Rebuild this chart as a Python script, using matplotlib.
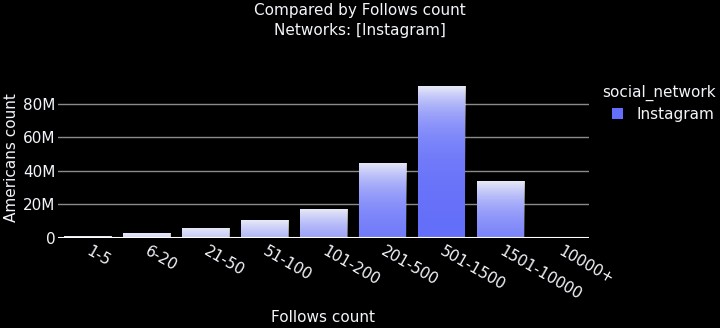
import numpy as np
import matplotlib
matplotlib.use("Agg")
import matplotlib.pyplot as plt
from matplotlib.ticker import FuncFormatter
from matplotlib.patches import Rectangle

categories = ["1-5", "6-20", "21-50", "51-100", "101-200", "201-500", "501-1500", "1501-10000", "10000+"]
americans = [1.0e6, 3.0e6, 6.0e6, 10.7e6, 17.3e6, 44.8e6, 90.7e6, 34.0e6, 0.0]
series_name = "Instagram"
legend_title = "social_network"
title_lines = ["Compared by Follows count", "Networks: [Instagram]"]
x_title = "Follows count"
y_title = "Americans count"
y_ticks = [0, 20e6, 40e6, 60e6, 80e6]

BAR = "#636EFA"
TXT = "#f2f5fa"
plt.rcParams['font.family'] = ['DejaVu Sans']

fig = plt.figure(figsize=(7.2, 3.28), dpi=100, facecolor="black")
ax = fig.add_axes([58/720, 90/328, 531/720, 160/328], facecolor="black")

x = np.arange(len(categories))
bars = ax.bar(x, americans, width=0.8, color=BAR, zorder=3, linewidth=0)

ymax = 95.5e6
px_per_unit = 160 / ymax
for b in bars:
    h = b.get_height()
    if h <= 0:
        continue
    ys = np.linspace(0, h, 300)
    d = (h - ys) * px_per_unit
    alpha = 0.86 * np.exp(-d / 33.0)
    img = np.ones((len(ys), 2, 4))
    img[:, :, 3] = alpha[:, None]
    img[:, :, 2] = 0.97
    im = ax.imshow(img, extent=(b.get_x(), b.get_x() + b.get_width(), 0, h),
                   origin="lower", aspect="auto", interpolation="bilinear", zorder=4)
    im.set_clip_path(b)

ax.set_xlim(-0.5, len(categories) - 0.5)
ax.set_ylim(0, ymax)

ax.set_yticks(y_ticks)
ax.yaxis.set_major_formatter(FuncFormatter(lambda v, p: "0" if v == 0 else f"{int(v/1e6)}M"))
ax.grid(axis="y", color="#8a8a8a", linewidth=1, zorder=0)
ax.axhline(0, color="white", linewidth=1.5, zorder=5)
for s in ax.spines.values():
    s.set_visible(False)
ax.tick_params(axis="y", length=0, pad=2, labelsize=11, labelcolor=TXT)
ax.tick_params(axis="x", length=0, pad=4, labelsize=11, labelcolor=TXT)
ax.set_xticks(x)
ax.set_xticklabels(categories, rotation=-30, ha="left", va="center", rotation_mode="anchor")
for lbl in ax.get_xticklabels():
    lbl.set_y(-0.04)

fig.text(0.5, 1 - 10/328, title_lines[0], ha="center", va="center", color=TXT, fontsize=11)
fig.text(0.5, 1 - 30/328, title_lines[1], ha="center", va="center", color=TXT, fontsize=11)
fig.text(323/720, 1 - 318/328, x_title, ha="center", va="center", color=TXT, fontsize=11)
fig.text(12/720, 1 - 158/328, y_title, ha="center", va="center", rotation=90, color=TXT, fontsize=11)

fig.text(602/720, 1 - 93/328, legend_title, ha="left", va="center", color=TXT, fontsize=11)
fig.patches.append(Rectangle((612/720, 1 - 119/328), 11/720, 11/328, transform=fig.transFigure,
                             facecolor=BAR, edgecolor="none", figure=fig))
fig.text(636/720, 1 - 114/328, series_name, ha="left", va="center", color=TXT, fontsize=11)

fig.savefig("out.png", dpi=100, facecolor="black")
